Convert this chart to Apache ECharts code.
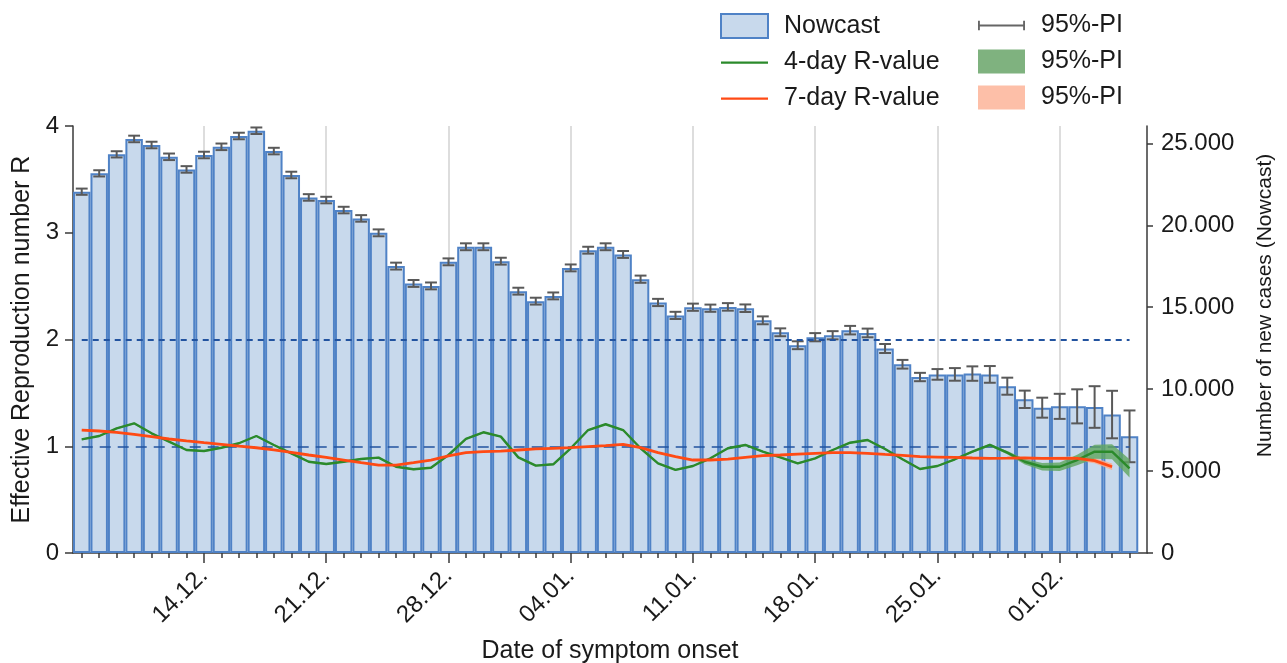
<!DOCTYPE html>
<html><head><meta charset="utf-8">
<script src="https://cdn.jsdelivr.net/npm/echarts@6/dist/echarts.min.js"></script>
<style>html,body{margin:0;padding:0;background:#fff}#c{width:1287px;height:663px}</style>
</head><body><div id="c"></div>
<script>
// ---- data ----
const dates = ['07.12.','08.12.','09.12.','10.12.','11.12.','12.12.','13.12.','14.12.','15.12.','16.12.','17.12.','18.12.','19.12.','20.12.','21.12.','22.12.','23.12.','24.12.','25.12.','26.12.','27.12.','28.12.','29.12.','30.12.','31.12.',
'01.01.','02.01.','03.01.','04.01.','05.01.','06.01.','07.01.','08.01.','09.01.','10.01.','11.01.','12.01.','13.01.','14.01.','15.01.','16.01.','17.01.','18.01.','19.01.','20.01.','21.01.','22.01.','23.01.','24.01.','25.01.','26.01.','27.01.','28.01.','29.01.','30.01.','31.01.',
'01.02.','02.02.','03.02.','04.02.','05.02.'];
const majorLabels = ['14.12.','21.12.','28.12.','04.01.','11.01.','18.01.','25.01.','01.02.'];
const nowcast = [22050,23170,24330,25270,24900,24180,23410,24290,24790,25450,
25770,24530,23070,21700,21540,20930,20420,19540,17510,16450,
16300,17770,18690,18690,17810,15980,15370,15690,17400,18480,
18690,18220,16710,15290,14500,15000,14940,15020,14940,14200,
13470,12680,13170,13290,13600,13430,12480,11520,10740,10900,
10900,10950,10900,10180,9380,8870,8950,8950,8910,8450,7120];
const nowcastPiHalf = [190,190,190,200,200,200,200,200,200,200,
200,200,200,200,200,200,200,210,210,210,
210,210,210,210,210,210,210,210,210,210,
210,210,220,220,220,220,220,230,230,240,
240,240,250,250,260,265,275,265,255,325,
385,440,510,520,530,610,765,1040,1270,1450,1580];
const r4 = [1.065,1.096,1.168,1.215,1.121,1.043,0.965,0.955,0.986,1.028,
1.096,1.012,0.934,0.855,0.834,0.855,0.881,0.893,0.808,0.784,
0.799,0.918,1.070,1.131,1.090,0.896,0.818,0.831,0.981,1.152,
1.206,1.152,0.981,0.840,0.778,0.815,0.887,0.981,1.012,0.949,
0.896,0.840,0.887,0.965,1.033,1.059,0.974,0.878,0.787,0.815,
0.878,0.949,1.012,0.940,0.855,0.808,0.808,0.871,0.949,0.949,0.793];
const r4PiHalf = [0.008,0.008,0.008,0.008,0.008,0.008,0.008,0.008,0.008,0.008,
0.008,0.008,0.008,0.008,0.008,0.008,0.008,0.008,0.008,0.008,
0.008,0.008,0.008,0.008,0.008,0.008,0.008,0.008,0.008,0.008,
0.008,0.008,0.008,0.008,0.008,0.008,0.008,0.008,0.008,0.008,
0.008,0.008,0.008,0.008,0.008,0.008,0.008,0.008,0.008,0.008,
0.008,0.010,0.012,0.015,0.025,0.035,0.040,0.050,0.065,0.070,0.085];
const r7 = [1.152,1.143,1.130,1.112,1.090,1.068,1.050,1.033,1.018,1.002,
0.986,0.965,0.943,0.918,0.896,0.871,0.846,0.824,0.824,0.846,
0.871,0.909,0.940,0.949,0.955,0.965,0.975,0.981,0.987,0.996,
1.005,1.018,0.987,0.940,0.902,0.871,0.871,0.880,0.896,0.912,
0.918,0.927,0.934,0.940,0.940,0.934,0.924,0.915,0.902,0.899,
0.895,0.890,0.887,0.888,0.890,0.887,0.887,0.887,0.865,0.808,null];
const r7PiHalf = [0.006,0.006,0.006,0.006,0.006,0.006,0.006,0.006,0.006,0.006,
0.006,0.006,0.006,0.006,0.006,0.006,0.006,0.006,0.006,0.006,
0.006,0.006,0.006,0.006,0.006,0.006,0.006,0.006,0.006,0.006,
0.006,0.006,0.006,0.006,0.006,0.006,0.006,0.006,0.006,0.006,
0.006,0.006,0.006,0.006,0.006,0.006,0.006,0.006,0.006,0.006,
0.006,0.006,0.006,0.007,0.009,0.012,0.015,0.020,0.025,0.030,null];
const thresholdR = 1;
const dottedR = 2;
const rTicks = {min:0, max:4, interval:1};
const casesTicks = [0,5000,10000,15000,20000,25000];
const casesMax = 26060;

// ---- chart ----
const FONT = '"Liberation Sans", Arial, sans-serif';
const TXT = '#1a1a1a';
const AX = '#3a3a3a';
const idx = dates.map((d,i)=>i);
const majorIdx = majorLabels.map(l=>dates.indexOf(l));
const last = dates.length - 1;
const fmtThousands = v => String(v).replace(/\B(?=(\d{3})+(?!\d))/g, '.');
const LINE_ICON = 'path://M0,0M50,24M0,11H50V13.2H0Z';

function bandSeries(name, center, half, color, z){
  const rows = [];
  center.forEach((v,i)=>{ if (v != null && half[i] != null) rows.push([i, v - half[i], v + half[i]]); });
  return {
    name, type:'custom', xAxisIndex:0, yAxisIndex:0, z, silent:true,
    encode:{x:0, y:[1,2]}, data:rows,
    renderItem:(params, api)=>{
      if (params.dataIndex !== 0) return null;
      const upper = rows.map(r=>api.coord([r[0], r[2]]));
      const lower = rows.map(r=>api.coord([r[0], r[1]])).reverse();
      return {type:'polygon', shape:{points:upper.concat(lower)}, style:{fill:color}};
    }
  };
}

const chart = echarts.init(document.getElementById('c'), null, {renderer:'canvas'});
const xBase = {type:'value', min:-0.5, max:last + 1, position:'bottom', gridIndex:0};
const legendText = {fontSize:25, color:TXT, fontFamily:FONT, padding:[0,0,0,11]};
chart.setOption({
  animation:false,
  backgroundColor:'#fff',
  textStyle:{fontFamily:FONT},
  grid:{left:73, right:140, top:126, bottom:110, containLabel:false, outerBoundsMode:'none'},
  legend:[
    {left:720, top:13, orient:'vertical', itemWidth:47, itemHeight:24, itemGap:11, selectedMode:false,
     padding:0, textStyle:legendText,
     data:[
      {name:'Nowcast', icon:'rect', itemStyle:{color:'#c8d9ec', borderColor:'#4f82c6', borderWidth:2}},
      {name:'4-day R-value', icon:LINE_ICON, itemStyle:{color:'#2b8a2b', borderWidth:0}},
      {name:'7-day R-value', icon:LINE_ICON, itemStyle:{color:'#ff4a14', borderWidth:0}}
     ]},
    {left:978, top:13, orient:'vertical', itemWidth:47, itemHeight:24, itemGap:11, selectedMode:false,
     padding:0, textStyle:legendText,
     data:[
      {name:'95%-PI', icon:'path://M0,0M50,24M0,7H2V11H48V7H50V17H48V13H2V17H0Z', itemStyle:{color:'#666666', borderWidth:0}},
      {name:'95%-PI ', icon:'rect', itemStyle:{color:'#7fb27f', borderWidth:0}},
      {name:'95%-PI  ', icon:'rect', itemStyle:{color:'#fdbfa8', borderWidth:0}}
     ]}
  ],
  xAxis:[
    Object.assign({}, xBase, {
      axisLine:{show:true, onZero:false, lineStyle:{color:AX, width:1.5}},
      axisTick:{show:true, length:5, lineStyle:{color:AX, width:1.5}, customValues:idx},
      axisLabel:{show:false},
      splitLine:{show:false}
    }),
    Object.assign({}, xBase, {
      name:'Date of symptom onset', nameLocation:'middle', nameGap:86,
      nameTextStyle:{fontSize:25, color:TXT, fontFamily:FONT},
      axisLine:{show:false, onZero:false},
      axisTick:{show:true, length:10, lineStyle:{color:AX, width:1.5}, customValues:majorIdx},
      axisLabel:{show:true, customValues:majorIdx, rotate:45, margin:19, fontSize:24, color:TXT, fontFamily:FONT,
                 formatter:v=>dates[Math.round(v)]},
      splitLine:{show:true, lineStyle:{color:'#dddddd', width:2}}
    })
  ],
  yAxis:[
    {type:'value', position:'left', min:rTicks.min, max:rTicks.max, interval:rTicks.interval,
     name:'Effective Reproduction number R', nameLocation:'middle', nameGap:38,
     nameTextStyle:{fontSize:25, color:TXT, fontFamily:FONT},
     axisLine:{show:true, onZero:false, lineStyle:{color:AX, width:1.5}},
     axisTick:{show:true, inside:false, length:8, lineStyle:{color:AX, width:1.5}},
     axisLabel:{fontSize:24, color:TXT, fontFamily:FONT, margin:14},
     splitLine:{show:false}},
    {type:'value', position:'right', min:0, max:casesMax,
     name:'Number of new cases (Nowcast)', nameLocation:'middle', nameGap:108,
     nameTextStyle:{fontSize:21, color:TXT, fontFamily:FONT, padding:[0,0,0,68]},
     axisLine:{show:true, onZero:false, lineStyle:{color:AX, width:1.5}},
     axisTick:{show:true, length:6, customValues:casesTicks, lineStyle:{color:AX, width:1.5}},
     axisLabel:{fontSize:24, color:TXT, fontFamily:FONT, margin:14, customValues:casesTicks, formatter:fmtThousands},
     splitLine:{show:false}}
  ],
  series:[
    {name:'Nowcast', type:'bar', xAxisIndex:0, yAxisIndex:1, barWidth:'100%', z:2,
     itemStyle:{color:'#c8d9ec', borderColor:'#4f82c6', borderWidth:2},
     data:nowcast.map((v,i)=>[i,v])},
    {name:'95%-PI', type:'custom', xAxisIndex:0, yAxisIndex:1, z:4, silent:true,
     encode:{x:0, y:[1,2]},
     data:nowcast.map((v,i)=>[i, v - nowcastPiHalf[i], v + nowcastPiHalf[i]]),
     renderItem:(params, api)=>{
       const lo = api.coord([api.value(0), api.value(1)]);
       const hi = api.coord([api.value(0), api.value(2)]);
       const w = api.size([1,0])[0] * 0.34;
       const st = {stroke:'#595959', lineWidth:2};
       return {type:'group', children:[
         {type:'line', shape:{x1:lo[0], y1:lo[1], x2:hi[0], y2:hi[1]}, style:st},
         {type:'line', shape:{x1:lo[0]-w, y1:lo[1], x2:lo[0]+w, y2:lo[1]}, style:st},
         {type:'line', shape:{x1:hi[0]-w, y1:hi[1], x2:hi[0]+w, y2:hi[1]}, style:st}
       ]};
     }},
    bandSeries('95%-PI  ', r7, r7PiHalf, 'rgba(252,170,140,0.85)', 5),
    bandSeries('95%-PI ', r4, r4PiHalf, 'rgba(95,165,95,0.8)', 5),
    {name:'7-day R-value', type:'line', xAxisIndex:0, yAxisIndex:0, symbol:'none', z:7,
     lineStyle:{color:'#ff4a14', width:2.8}, itemStyle:{color:'#ff4a14'},
     data:r7.map((v,i)=>[i,v])},
    {name:'4-day R-value', type:'line', xAxisIndex:0, yAxisIndex:0, symbol:'none', z:6,
     lineStyle:{color:'#2b8a2b', width:2.4}, itemStyle:{color:'#2b8a2b'},
     data:r4.map((v,i)=>[i,v]),
     markLine:{silent:true, symbol:'none', label:{show:false}, animation:false,
       data:[
         [{coord:[0,thresholdR], lineStyle:{type:[11,7], color:'#22539f', width:1.6}}, {coord:[last,thresholdR]}],
         [{coord:[0,dottedR], lineStyle:{type:[6,5], color:'#22539f', width:2.2}}, {coord:[last,dottedR]}]
       ]}}
  ]
});
</script>
</body></html>
